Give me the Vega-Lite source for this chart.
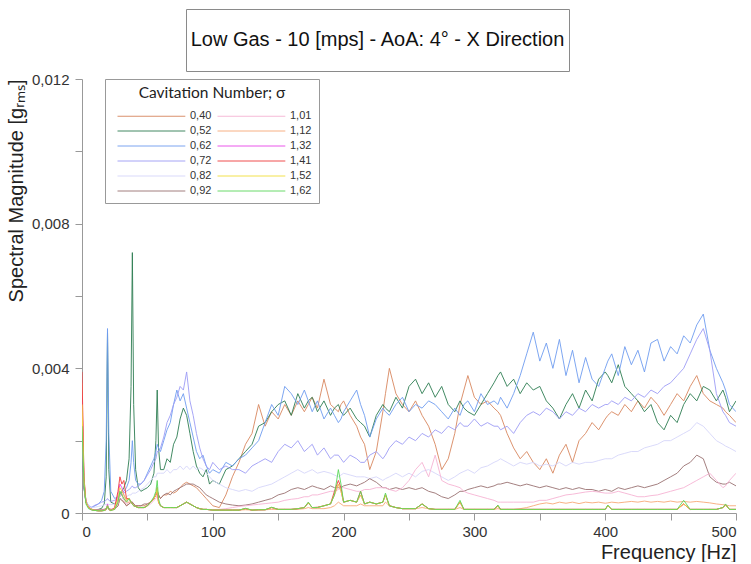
{
"$schema": "https://vega.github.io/schema/vega-lite/v6.json",
"background": "white",
"padding": {"left": 6, "top": 8, "right": 0, "bottom": 0},
"spacing": 0,
"resolve": {"legend": {"color": "independent"}},
"config": {"font": "Liberation Sans", "view": {"stroke": null}},
"datasets": {
"sig": [{"k":"a","s":"0,40"},{"k":"b","s":"0,52"},{"k":"c","s":"0,62"},{"k":"d","s":"0,72"},{"k":"e","s":"0,82"},{"k":"f","s":"0,92"},{"k":"g","s":"1,01"},{"k":"h","s":"1,12"},{"k":"i","s":"1,32"},{"k":"j","s":"1,41"},{"k":"k","s":"1,52"},{"k":"l","s":"1,62"}],
"spec": [
{"hz":0,"a":0.003,"b":0.0025,"c":0.0028,"d":0.0026,"e":0.0027,"f":0.0026,"g":0.0033,"h":0.0036,"i":0.0032,"j":0.0039,"k":0.003,"l":0.0024},
{"hz":1.5,"a":0.0008,"b":0.0007,"c":0.0008,"d":0.0007,"e":0.0008,"f":0.0007,"g":0.0009,"h":0.001,"i":0.0009,"j":0.001,"k":0.0009,"l":0.0008},
{"hz":3,"a":0.0003,"b":0.0003,"c":0.00035,"d":0.0003,"e":0.00035,"f":0.0003,"g":0.0003,"h":0.0003,"i":0.0003,"j":0.0003,"k":0.0003,"l":0.00025},
{"hz":5,"a":0.00015,"b":0.00015,"c":0.0002,"d":0.0002,"e":0.0002,"f":0.00015,"g":0.00015,"h":0.00015,"i":0.00015,"j":0.00015,"k":0.00015,"l":0.00012},
{"hz":7.5,"a":0.0001,"b":0.0001,"c":0.00015,"d":0.00016,"e":0.00015,"f":0.0001,"g":0.0001,"h":0.0001,"i":0.00009,"j":0.00009,"k":0.00009,"l":0.00008},
{"hz":10,"a":0.00008,"b":0.00009,"c":0.0002,"d":0.00022,"e":0.00016,"f":0.00009,"g":0.00008,"h":0.00008,"i":0.00007,"j":0.00007,"k":0.00007,"l":0.00007},
{"hz":12.5,"a":0.00008,"b":0.0001,"c":0.00025,"d":0.00025,"e":0.00018,"f":0.00009,"g":0.00008,"h":0.00007,"i":0.00006,"j":0.00006,"k":0.00006,"l":0.00006},
{"hz":15,"a":0.00009,"b":0.00013,"c":0.00035,"d":0.0003,"e":0.0002,"f":0.0001,"g":0.00008,"h":0.00007,"i":0.00006,"j":0.00006,"k":0.00006,"l":0.00006},
{"hz":17,"a":0.0001,"b":0.00025,"c":0.0006,"d":0.00032,"e":0.00022,"f":0.0001,"g":0.00008,"h":0.00007,"i":0.00007,"j":0.00007,"k":0.00007,"l":0.00007},
{"hz":18.5,"a":0.00012,"b":0.001,"c":0.002,"d":0.00035,"e":0.00024,"f":0.00012,"g":0.0001,"h":0.00009,"i":0.0001,"j":0.0001,"k":0.0001,"l":0.0001},
{"hz":19.5,"a":0.00015,"b":0.005,"c":0.0051,"d":0.0004,"e":0.00025,"f":0.00015,"g":0.00015,"h":0.00015,"i":0.00025,"j":0.0002,"k":0.0002,"l":0.0002},
{"hz":20.5,"a":0.00012,"b":0.0012,"c":0.0022,"d":0.00035,"e":0.00024,"f":0.00012,"g":0.0001,"h":0.00009,"i":0.0001,"j":0.0001,"k":0.0001,"l":0.0001},
{"hz":22,"a":0.0001,"b":0.0003,"c":0.0006,"d":0.00032,"e":0.00023,"f":0.0001,"g":0.00008,"h":0.00007,"i":0.00007,"j":0.00007,"k":0.00007,"l":0.00007},
{"hz":25,"a":0.0001,"b":0.00025,"c":0.0004,"d":0.00035,"e":0.00025,"f":0.0001,"g":0.0001,"h":0.0001,"i":0.00015,"j":0.00015,"k":0.00012,"l":0.0001},
{"hz":27.5,"a":0.0002,"b":0.00035,"c":0.00045,"d":0.0004,"e":0.0003,"f":0.0002,"g":0.00025,"h":0.0003,"i":0.0005,"j":0.0006,"k":0.0004,"l":0.0003},
{"hz":29,"a":0.0004,"b":0.0005,"c":0.0005,"d":0.00045,"e":0.00035,"f":0.0004,"g":0.0005,"h":0.0006,"i":0.0008,"j":0.001,"k":0.0007,"l":0.0006},
{"hz":30.5,"a":0.00035,"b":0.0006,"c":0.00055,"d":0.0005,"e":0.0004,"f":0.00035,"g":0.0005,"h":0.0005,"i":0.0007,"j":0.0008,"k":0.0006,"l":0.0005},
{"hz":32,"a":0.0003,"b":0.0007,"c":0.0006,"d":0.00055,"e":0.0004,"f":0.0003,"g":0.00035,"h":0.0004,"i":0.0005,"j":0.0009,"k":0.0005,"l":0.0004},
{"hz":34,"a":0.0002,"b":0.0009,"c":0.0007,"d":0.0006,"e":0.00045,"f":0.0002,"g":0.00025,"h":0.0003,"i":0.00035,"j":0.0004,"k":0.00035,"l":0.0003},
{"hz":36,"a":0.00025,"b":0.0015,"c":0.0009,"d":0.00065,"e":0.0005,"f":0.00025,"g":0.0003,"h":0.0003,"i":0.0004,"j":0.0004,"k":0.0004,"l":0.0004},
{"hz":37.5,"a":0.0003,"b":0.0035,"c":0.0014,"d":0.0007,"e":0.0005,"f":0.0003,"g":0.0003,"h":0.0003,"i":0.0003,"j":0.0003,"k":0.0003,"l":0.0003},
{"hz":38.5,"a":0.0003,"b":0.0072,"c":0.002,"d":0.00075,"e":0.00055,"f":0.0003,"g":0.00025,"h":0.00025,"i":0.00025,"j":0.00025,"k":0.00025,"l":0.00025},
{"hz":39.5,"a":0.00025,"b":0.003,"c":0.0014,"d":0.0007,"e":0.00055,"f":0.00025,"g":0.0002,"h":0.0002,"i":0.0002,"j":0.0002,"k":0.0002,"l":0.0002},
{"hz":41,"a":0.0002,"b":0.0012,"c":0.0009,"d":0.0007,"e":0.00055,"f":0.0002,"g":0.00018,"h":0.00018,"i":0.00018,"j":0.00018,"k":0.00018,"l":0.00018},
{"hz":43,"a":0.0002,"b":0.0007,"c":0.0008,"d":0.00075,"e":0.0006,"f":0.0002,"g":0.00015,"h":0.00015,"i":0.00015,"j":0.00015,"k":0.00015,"l":0.00015},
{"hz":45,"a":0.0002,"b":0.0006,"c":0.0008,"d":0.0008,"e":0.00065,"f":0.0002,"g":0.00015,"h":0.00015,"i":0.00015,"j":0.00015,"k":0.00015,"l":0.00015},
{"hz":47.5,"a":0.0002,"b":0.00065,"c":0.0009,"d":0.0009,"e":0.0007,"f":0.00025,"g":0.00015,"h":0.00015,"i":0.00015,"j":0.00015,"k":0.00015,"l":0.00015},
{"hz":50,"a":0.00025,"b":0.0007,"c":0.0011,"d":0.00105,"e":0.0008,"f":0.00025,"g":0.0002,"h":0.0002,"i":0.0002,"j":0.0002,"k":0.0002,"l":0.0002},
{"hz":52.5,"a":0.0003,"b":0.0008,"c":0.0013,"d":0.0012,"e":0.0009,"f":0.0003,"g":0.00025,"h":0.0003,"i":0.0003,"j":0.0003,"k":0.0003,"l":0.0003},
{"hz":55,"a":0.0004,"b":0.0011,"c":0.0015,"d":0.0014,"e":0.001,"f":0.0004,"g":0.00035,"h":0.0004,"i":0.0004,"j":0.0004,"k":0.0004,"l":0.00045},
{"hz":56.5,"a":0.0005,"b":0.002,"c":0.0017,"d":0.0015,"e":0.001,"f":0.0005,"g":0.0004,"h":0.0005,"i":0.0005,"j":0.0005,"k":0.0005,"l":0.0006},
{"hz":57.5,"a":0.0006,"b":0.0034,"c":0.0019,"d":0.0017,"e":0.0011,"f":0.0006,"g":0.0005,"h":0.0006,"i":0.0007,"j":0.0007,"k":0.0007,"l":0.0009},
{"hz":58.5,"a":0.0005,"b":0.0018,"c":0.0018,"d":0.0017,"e":0.0011,"f":0.0005,"g":0.0003,"h":0.0003,"i":0.0003,"j":0.0003,"k":0.0003,"l":0.0004},
{"hz":60,"a":0.0004,"b":0.0012,"c":0.0017,"d":0.0018,"e":0.0011,"f":0.0004,"g":0.0002,"h":0.0002,"i":0.0002,"j":0.0002,"k":0.0002,"l":0.0002},
{"hz":62.5,"a":0.0005,"b":0.0012,"c":0.002,"d":0.0021,"e":0.0011,"f":0.0005,"g":0.00015,"h":0.00015,"i":0.00015,"j":0.00015,"k":0.00015,"l":0.00015},
{"hz":65,"a":0.0005,"b":0.0015,"c":0.0023,"d":0.0025,"e":0.0012,"f":0.00055,"g":0.00015,"h":0.00015,"i":0.00015,"j":0.00015,"k":0.00015,"l":0.00015},
{"hz":67.5,"a":0.0006,"b":0.0014,"c":0.0025,"d":0.0027,"e":0.0011,"f":0.0005,"g":0.00015,"h":0.00015,"i":0.00015,"j":0.00015,"k":0.00015,"l":0.00015},
{"hz":70,"a":0.00055,"b":0.0019,"c":0.003,"d":0.003,"e":0.0012,"f":0.0006,"g":0.00015,"h":0.00015,"i":0.00015,"j":0.00015,"k":0.00015,"l":0.00015},
{"hz":72.5,"a":0.0006,"b":0.0021,"c":0.0034,"d":0.0032,"e":0.0012,"f":0.00065,"g":0.00015,"h":0.00015,"i":0.00015,"j":0.00015,"k":0.00015,"l":0.00015},
{"hz":75,"a":0.0007,"b":0.0026,"c":0.0031,"d":0.0035,"e":0.0013,"f":0.0007,"g":0.0002,"h":0.0002,"i":0.0002,"j":0.0002,"k":0.0002,"l":0.0002},
{"hz":77.5,"a":0.0008,"b":0.0029,"c":0.0033,"d":0.0034,"e":0.0012,"f":0.00075,"g":0.00025,"h":0.00025,"i":0.00025,"j":0.00025,"k":0.00025,"l":0.00025},
{"hz":80,"a":0.00085,"b":0.0027,"c":0.0029,"d":0.0039,"e":0.0013,"f":0.0008,"g":0.0003,"h":0.0003,"i":0.0003,"j":0.0003,"k":0.0003,"l":0.0003},
{"hz":82.5,"a":0.0008,"b":0.0022,"c":0.0025,"d":0.0031,"e":0.0012,"f":0.0008,"g":0.00025,"h":0.00025,"i":0.00025,"j":0.00025,"k":0.00025,"l":0.00025},
{"hz":85,"a":0.00075,"b":0.0017,"c":0.0021,"d":0.0027,"e":0.0013,"f":0.0008,"g":0.0002,"h":0.0002,"i":0.0002,"j":0.0002,"k":0.0002,"l":0.0002},
{"hz":87.5,"a":0.0007,"b":0.0013,"c":0.0017,"d":0.0022,"e":0.0012,"f":0.00075,"g":0.00015,"h":0.00015,"i":0.00015,"j":0.00015,"k":0.00015,"l":0.00015},
{"hz":90,"a":0.0006,"b":0.0011,"c":0.0015,"d":0.0018,"e":0.00125,"f":0.0007,"g":0.00012,"h":0.00012,"i":0.00012,"j":0.00012,"k":0.00012,"l":0.00012},
{"hz":92.5,"a":0.0005,"b":0.001,"c":0.0016,"d":0.0015,"e":0.0012,"f":0.0006,"g":0.0001,"h":0.0001,"i":0.0001,"j":0.0001,"k":0.0001,"l":0.0001},
{"hz":95,"a":0.0004,"b":0.0012,"c":0.0013,"d":0.0013,"e":0.0011,"f":0.0005,"g":0.0001,"h":0.0001,"i":0.0001,"j":0.0001,"k":0.0001,"l":0.0001},
{"hz":97.5,"a":0.0003,"b":0.0008,"c":0.0011,"d":0.0012,"e":0.001,"f":0.00045,"g":0.0001,"h":0.00009,"i":0.00009,"j":0.00009,"k":0.00009,"l":0.00009},
{"hz":100,"a":0.0002,"b":0.0009,"c":0.0012,"d":0.0014,"e":0.0009,"f":0.0004,"g":0.00009,"h":0.00008,"i":0.00008,"j":0.00008,"k":0.00008,"l":0.00008},
{"hz":105,"a":0.00015,"b":0.0008,"c":0.0011,"d":0.0012,"e":0.0008,"f":0.0003,"g":0.0001,"h":0.00008,"i":0.00008,"j":0.00008,"k":0.00008,"l":0.00008},
{"hz":110,"a":0.0005,"b":0.0012,"c":0.0014,"d":0.0013,"e":0.0007,"f":0.00025,"g":0.00012,"h":0.00008,"i":0.00008,"j":0.00008,"k":0.00008,"l":0.00008},
{"hz":115,"a":0.001,"b":0.0013,"c":0.0013,"d":0.0012,"e":0.00065,"f":0.00022,"g":0.00015,"h":0.00008,"i":0.00008,"j":0.00008,"k":0.00008,"l":0.00008},
{"hz":120,"a":0.0014,"b":0.0015,"c":0.0015,"d":0.0012,"e":0.0006,"f":0.0002,"g":0.00018,"h":0.00008,"i":0.00008,"j":0.00008,"k":0.00008,"l":0.00008},
{"hz":125,"a":0.0019,"b":0.0017,"c":0.0016,"d":0.0011,"e":0.00065,"f":0.00022,"g":0.0002,"h":0.00009,"i":0.00012,"j":0.00012,"k":0.00012,"l":0.00013},
{"hz":130,"a":0.0022,"b":0.0019,"c":0.0018,"d":0.0013,"e":0.0006,"f":0.00025,"g":0.00022,"h":0.00008,"i":0.00008,"j":0.00008,"k":0.00008,"l":0.00008},
{"hz":135,"a":0.003,"b":0.0024,"c":0.002,"d":0.0014,"e":0.0007,"f":0.0003,"g":0.00024,"h":0.00008,"i":0.00009,"j":0.00009,"k":0.00009,"l":0.00009},
{"hz":140,"a":0.0024,"b":0.0025,"c":0.0025,"d":0.0015,"e":0.00075,"f":0.00035,"g":0.00026,"h":0.00009,"i":0.00009,"j":0.00009,"k":0.00009,"l":0.00009},
{"hz":145,"a":0.0028,"b":0.0028,"c":0.003,"d":0.0014,"e":0.0008,"f":0.0004,"g":0.00028,"h":0.0001,"i":0.00015,"j":0.00015,"k":0.00015,"l":0.00016},
{"hz":150,"a":0.0026,"b":0.003,"c":0.0027,"d":0.0017,"e":0.0009,"f":0.0005,"g":0.0003,"h":0.0001,"i":0.0001,"j":0.0001,"k":0.0001,"l":0.0001},
{"hz":155,"a":0.003,"b":0.0031,"c":0.0035,"d":0.0019,"e":0.001,"f":0.00055,"g":0.00035,"h":0.0001,"i":0.0001,"j":0.0001,"k":0.0001,"l":0.0001},
{"hz":160,"a":0.0027,"b":0.0027,"c":0.0033,"d":0.0018,"e":0.0011,"f":0.00065,"g":0.00038,"h":0.0001,"i":0.0001,"j":0.0001,"k":0.0001,"l":0.0001},
{"hz":165,"a":0.0031,"b":0.0033,"c":0.003,"d":0.002,"e":0.0012,"f":0.0007,"g":0.0004,"h":0.0001,"i":0.00012,"j":0.00012,"k":0.00012,"l":0.00012},
{"hz":170,"a":0.0028,"b":0.0029,"c":0.0034,"d":0.0017,"e":0.0011,"f":0.00065,"g":0.00045,"h":0.00012,"i":0.00015,"j":0.00015,"k":0.00015,"l":0.00015},
{"hz":173,"a":0.003,"b":0.0031,"c":0.0031,"d":0.0018,"e":0.00115,"f":0.0007,"g":0.00045,"h":0.00015,"i":0.00028,"j":0.00028,"k":0.00028,"l":0.0003},
{"hz":176,"a":0.0032,"b":0.0032,"c":0.0028,"d":0.0019,"e":0.0012,"f":0.00075,"g":0.0005,"h":0.00012,"i":0.00015,"j":0.00015,"k":0.00015,"l":0.00015},
{"hz":180,"a":0.0029,"b":0.0028,"c":0.0031,"d":0.0016,"e":0.0011,"f":0.0007,"g":0.0005,"h":0.00012,"i":0.00015,"j":0.00016,"k":0.00015,"l":0.00015},
{"hz":185,"a":0.0037,"b":0.0031,"c":0.0026,"d":0.0018,"e":0.00115,"f":0.00065,"g":0.00055,"h":0.00012,"i":0.0002,"j":0.0002,"k":0.0002,"l":0.0002},
{"hz":190,"a":0.003,"b":0.0027,"c":0.0029,"d":0.0015,"e":0.0011,"f":0.00075,"g":0.0006,"h":0.00015,"i":0.00025,"j":0.00025,"k":0.00025,"l":0.00025},
{"hz":193,"a":0.0029,"b":0.0029,"c":0.0027,"d":0.0016,"e":0.00105,"f":0.0007,"g":0.0006,"h":0.0002,"i":0.0005,"j":0.0006,"k":0.0005,"l":0.0005},
{"hz":196,"a":0.0028,"b":0.003,"c":0.0025,"d":0.0016,"e":0.001,"f":0.0007,"g":0.00065,"h":0.0003,"i":0.0008,"j":0.0009,"k":0.0008,"l":0.0012},
{"hz":198,"a":0.003,"b":0.0028,"c":0.0026,"d":0.0015,"e":0.00105,"f":0.0007,"g":0.0007,"h":0.00025,"i":0.0006,"j":0.0007,"k":0.0006,"l":0.0008},
{"hz":200,"a":0.0031,"b":0.0027,"c":0.0028,"d":0.0014,"e":0.0011,"f":0.00075,"g":0.0007,"h":0.0002,"i":0.0003,"j":0.0003,"k":0.0003,"l":0.0003},
{"hz":205,"a":0.0027,"b":0.0029,"c":0.0031,"d":0.0016,"e":0.00105,"f":0.0008,"g":0.00065,"h":0.0002,"i":0.00035,"j":0.00035,"k":0.00035,"l":0.00035},
{"hz":210,"a":0.0024,"b":0.0026,"c":0.0034,"d":0.0015,"e":0.001,"f":0.00075,"g":0.0006,"h":0.0002,"i":0.0003,"j":0.0003,"k":0.0003,"l":0.0003},
{"hz":213,"a":0.0021,"b":0.0025,"c":0.003,"d":0.0014,"e":0.001,"f":0.0008,"g":0.0006,"h":0.00025,"i":0.0005,"j":0.0006,"k":0.0005,"l":0.0006},
{"hz":216,"a":0.0019,"b":0.0024,"c":0.0027,"d":0.0014,"e":0.001,"f":0.00085,"g":0.00065,"h":0.0002,"i":0.00025,"j":0.00025,"k":0.00025,"l":0.00025},
{"hz":220,"a":0.0012,"b":0.0021,"c":0.0021,"d":0.0016,"e":0.00095,"f":0.00095,"g":0.00065,"h":0.0002,"i":0.0003,"j":0.0003,"k":0.0003,"l":0.0003},
{"hz":225,"a":0.0017,"b":0.0027,"c":0.0026,"d":0.0017,"e":0.001,"f":0.00085,"g":0.0007,"h":0.0002,"i":0.00025,"j":0.00025,"k":0.00025,"l":0.00025},
{"hz":230,"a":0.0028,"b":0.003,"c":0.0029,"d":0.0015,"e":0.0009,"f":0.0007,"g":0.0007,"h":0.0002,"i":0.0003,"j":0.0003,"k":0.0003,"l":0.0003},
{"hz":232,"a":0.0033,"b":0.0029,"c":0.0028,"d":0.0016,"e":0.00095,"f":0.0007,"g":0.0007,"h":0.0003,"i":0.0005,"j":0.0005,"k":0.0005,"l":0.00055},
{"hz":235,"a":0.004,"b":0.0028,"c":0.0027,"d":0.0018,"e":0.001,"f":0.00065,"g":0.00065,"h":0.0002,"i":0.0002,"j":0.0002,"k":0.0002,"l":0.0002},
{"hz":240,"a":0.0033,"b":0.0032,"c":0.003,"d":0.002,"e":0.0011,"f":0.0007,"g":0.0006,"h":0.00015,"i":0.00015,"j":0.00015,"k":0.00015,"l":0.00015},
{"hz":245,"a":0.003,"b":0.0029,"c":0.0032,"d":0.0019,"e":0.001,"f":0.00065,"g":0.0007,"h":0.00012,"i":0.00012,"j":0.00012,"k":0.00012,"l":0.00012},
{"hz":250,"a":0.0028,"b":0.0035,"c":0.0028,"d":0.0021,"e":0.0011,"f":0.0007,"g":0.0009,"h":0.00012,"i":0.00012,"j":0.00012,"k":0.00012,"l":0.00012},
{"hz":255,"a":0.0031,"b":0.0037,"c":0.003,"d":0.002,"e":0.001,"f":0.00065,"g":0.0012,"h":0.00012,"i":0.00012,"j":0.00012,"k":0.00012,"l":0.00012},
{"hz":260,"a":0.0027,"b":0.0033,"c":0.0029,"d":0.0022,"e":0.00115,"f":0.0007,"g":0.0014,"h":0.00015,"i":0.00025,"j":0.00025,"k":0.00025,"l":0.00025},
{"hz":265,"a":0.0024,"b":0.0036,"c":0.0031,"d":0.0021,"e":0.0012,"f":0.0006,"g":0.001,"h":0.00012,"i":0.00012,"j":0.00012,"k":0.00012,"l":0.00012},
{"hz":270,"a":0.0019,"b":0.0032,"c":0.003,"d":0.0023,"e":0.0011,"f":0.00055,"g":0.0016,"h":0.0001,"i":0.0001,"j":0.0001,"k":0.0001,"l":0.0001},
{"hz":275,"a":0.0012,"b":0.0035,"c":0.0028,"d":0.0022,"e":0.001,"f":0.00045,"g":0.0009,"h":0.0001,"i":0.0001,"j":0.0001,"k":0.0001,"l":0.0001},
{"hz":280,"a":0.0015,"b":0.003,"c":0.0026,"d":0.0024,"e":0.0009,"f":0.0004,"g":0.0008,"h":0.0001,"i":0.0001,"j":0.0001,"k":0.0001,"l":0.0001},
{"hz":285,"a":0.0022,"b":0.0028,"c":0.0029,"d":0.0023,"e":0.001,"f":0.0005,"g":0.00075,"h":0.0001,"i":0.0001,"j":0.0001,"k":0.0001,"l":0.0001},
{"hz":289,"a":0.003,"b":0.0031,"c":0.0027,"d":0.0025,"e":0.0011,"f":0.0006,"g":0.0007,"h":0.00015,"i":0.0003,"j":0.0003,"k":0.0003,"l":0.00035},
{"hz":292,"a":0.0034,"b":0.0029,"c":0.003,"d":0.0024,"e":0.00115,"f":0.0006,"g":0.0006,"h":0.0001,"i":0.0001,"j":0.0001,"k":0.0001,"l":0.0001},
{"hz":295,"a":0.0038,"b":0.0028,"c":0.0031,"d":0.0024,"e":0.0012,"f":0.00065,"g":0.00055,"h":0.0001,"i":0.0001,"j":0.0001,"k":0.0001,"l":0.0001},
{"hz":300,"a":0.0032,"b":0.0027,"c":0.0028,"d":0.0026,"e":0.0011,"f":0.0007,"g":0.0005,"h":0.0001,"i":0.0001,"j":0.0001,"k":0.0001,"l":0.0001},
{"hz":305,"a":0.003,"b":0.003,"c":0.0033,"d":0.0024,"e":0.00125,"f":0.00075,"g":0.00045,"h":0.0001,"i":0.0001,"j":0.0001,"k":0.0001,"l":0.0001},
{"hz":310,"a":0.0031,"b":0.0033,"c":0.003,"d":0.0025,"e":0.0013,"f":0.0007,"g":0.0004,"h":0.0001,"i":0.0001,"j":0.0001,"k":0.0001,"l":0.0001},
{"hz":315,"a":0.0029,"b":0.0036,"c":0.0031,"d":0.0024,"e":0.0014,"f":0.00075,"g":0.00035,"h":0.0001,"i":0.0001,"j":0.0001,"k":0.0001,"l":0.0001},
{"hz":318,"a":0.0028,"b":0.0038,"c":0.003,"d":0.0024,"e":0.00145,"f":0.0008,"g":0.0003,"h":0.00012,"i":0.0002,"j":0.0002,"k":0.0002,"l":0.00022},
{"hz":320,"a":0.0027,"b":0.0039,"c":0.0032,"d":0.0023,"e":0.0015,"f":0.0008,"g":0.0003,"h":0.0001,"i":0.0001,"j":0.0001,"k":0.0001,"l":0.0001},
{"hz":325,"a":0.0022,"b":0.0035,"c":0.0029,"d":0.0024,"e":0.0014,"f":0.00085,"g":0.0003,"h":0.0001,"i":0.0001,"j":0.0001,"k":0.0001,"l":0.0001},
{"hz":330,"a":0.0018,"b":0.0037,"c":0.0033,"d":0.0022,"e":0.0013,"f":0.0008,"g":0.0003,"h":0.0001,"i":0.0001,"j":0.0001,"k":0.0001,"l":0.0001},
{"hz":335,"a":0.0015,"b":0.0033,"c":0.0038,"d":0.0025,"e":0.0014,"f":0.00075,"g":0.0003,"h":0.00012,"i":0.0001,"j":0.0001,"k":0.0001,"l":0.0001},
{"hz":340,"a":0.0017,"b":0.0036,"c":0.0044,"d":0.0027,"e":0.00135,"f":0.0008,"g":0.0003,"h":0.00015,"i":0.0001,"j":0.0001,"k":0.0001,"l":0.0001},
{"hz":345,"a":0.0014,"b":0.0034,"c":0.005,"d":0.0028,"e":0.0014,"f":0.00075,"g":0.0003,"h":0.0002,"i":0.0001,"j":0.0001,"k":0.0001,"l":0.0001},
{"hz":350,"a":0.0012,"b":0.0035,"c":0.0042,"d":0.0027,"e":0.0013,"f":0.0007,"g":0.00035,"h":0.00025,"i":0.0001,"j":0.0001,"k":0.0001,"l":0.0001},
{"hz":355,"a":0.0015,"b":0.0031,"c":0.0047,"d":0.0029,"e":0.00135,"f":0.00075,"g":0.00035,"h":0.00028,"i":0.0001,"j":0.0001,"k":0.0001,"l":0.0001},
{"hz":360,"a":0.0011,"b":0.0029,"c":0.004,"d":0.0028,"e":0.0013,"f":0.0007,"g":0.0004,"h":0.00025,"i":0.0001,"j":0.0001,"k":0.0001,"l":0.0001},
{"hz":365,"a":0.0016,"b":0.0026,"c":0.0048,"d":0.0026,"e":0.0014,"f":0.00065,"g":0.00045,"h":0.0003,"i":0.0001,"j":0.0001,"k":0.0001,"l":0.0001},
{"hz":370,"a":0.0019,"b":0.003,"c":0.0038,"d":0.0028,"e":0.0013,"f":0.0007,"g":0.0005,"h":0.00027,"i":0.0001,"j":0.0001,"k":0.0001,"l":0.0001},
{"hz":375,"a":0.0014,"b":0.0033,"c":0.0045,"d":0.0027,"e":0.0014,"f":0.00065,"g":0.00052,"h":0.0003,"i":0.0001,"j":0.0001,"k":0.0001,"l":0.0001},
{"hz":380,"a":0.002,"b":0.0029,"c":0.0036,"d":0.0029,"e":0.00135,"f":0.0007,"g":0.00055,"h":0.00026,"i":0.0001,"j":0.0001,"k":0.0001,"l":0.0001},
{"hz":385,"a":0.0022,"b":0.0034,"c":0.0043,"d":0.0028,"e":0.0014,"f":0.00065,"g":0.00058,"h":0.0003,"i":0.0001,"j":0.0001,"k":0.0001,"l":0.0001},
{"hz":390,"a":0.0025,"b":0.0031,"c":0.0037,"d":0.003,"e":0.0014,"f":0.00065,"g":0.0006,"h":0.00028,"i":0.0001,"j":0.0001,"k":0.0001,"l":0.0001},
{"hz":395,"a":0.0023,"b":0.0037,"c":0.0035,"d":0.0029,"e":0.00145,"f":0.0006,"g":0.00058,"h":0.0003,"i":0.0001,"j":0.0001,"k":0.0001,"l":0.0001},
{"hz":400,"a":0.0026,"b":0.0039,"c":0.004,"d":0.003,"e":0.0015,"f":0.00065,"g":0.00055,"h":0.00027,"i":0.0001,"j":0.0001,"k":0.0001,"l":0.0001},
{"hz":402,"a":0.0027,"b":0.0038,"c":0.0042,"d":0.003,"e":0.0015,"f":0.00063,"g":0.00055,"h":0.00028,"i":0.0002,"j":0.0002,"k":0.0002,"l":0.00022},
{"hz":405,"a":0.0028,"b":0.0036,"c":0.0044,"d":0.0031,"e":0.0015,"f":0.0006,"g":0.00055,"h":0.0003,"i":0.0001,"j":0.0001,"k":0.0001,"l":0.0001},
{"hz":410,"a":0.0027,"b":0.0041,"c":0.0038,"d":0.003,"e":0.0016,"f":0.0007,"g":0.0006,"h":0.00028,"i":0.0001,"j":0.0001,"k":0.0001,"l":0.0001},
{"hz":415,"a":0.003,"b":0.0035,"c":0.0046,"d":0.0032,"e":0.00165,"f":0.00065,"g":0.00055,"h":0.0003,"i":0.0001,"j":0.0001,"k":0.0001,"l":0.0001},
{"hz":420,"a":0.0028,"b":0.0033,"c":0.0041,"d":0.0031,"e":0.0017,"f":0.0007,"g":0.0005,"h":0.00032,"i":0.0001,"j":0.0001,"k":0.0001,"l":0.0001},
{"hz":425,"a":0.0031,"b":0.0031,"c":0.0045,"d":0.0033,"e":0.0017,"f":0.00075,"g":0.00045,"h":0.0003,"i":0.0001,"j":0.0001,"k":0.0001,"l":0.0001},
{"hz":430,"a":0.0029,"b":0.0028,"c":0.0039,"d":0.0032,"e":0.0018,"f":0.0007,"g":0.00045,"h":0.00033,"i":0.0001,"j":0.0001,"k":0.0001,"l":0.0001},
{"hz":435,"a":0.0032,"b":0.003,"c":0.0047,"d":0.0034,"e":0.00185,"f":0.00075,"g":0.00048,"h":0.0003,"i":0.0001,"j":0.0001,"k":0.0001,"l":0.0001},
{"hz":440,"a":0.003,"b":0.0025,"c":0.0048,"d":0.0033,"e":0.0019,"f":0.0008,"g":0.0005,"h":0.00032,"i":0.0001,"j":0.0001,"k":0.0001,"l":0.0001},
{"hz":445,"a":0.0027,"b":0.0023,"c":0.0042,"d":0.0035,"e":0.002,"f":0.0009,"g":0.00055,"h":0.0003,"i":0.0001,"j":0.0001,"k":0.0001,"l":0.0001},
{"hz":450,"a":0.003,"b":0.0027,"c":0.0046,"d":0.0036,"e":0.002,"f":0.001,"g":0.0006,"h":0.00033,"i":0.0001,"j":0.0001,"k":0.0001,"l":0.0001},
{"hz":455,"a":0.0033,"b":0.0025,"c":0.0044,"d":0.0038,"e":0.0021,"f":0.0011,"g":0.00065,"h":0.0003,"i":0.0001,"j":0.0001,"k":0.0001,"l":0.0001},
{"hz":460,"a":0.0031,"b":0.003,"c":0.0049,"d":0.004,"e":0.0022,"f":0.0013,"g":0.0007,"h":0.00032,"i":0.00025,"j":0.00025,"k":0.00025,"l":0.00035},
{"hz":465,"a":0.0035,"b":0.0033,"c":0.0047,"d":0.0044,"e":0.0023,"f":0.0014,"g":0.0008,"h":0.0003,"i":0.0001,"j":0.0001,"k":0.0001,"l":0.0001},
{"hz":470,"a":0.0038,"b":0.0031,"c":0.0052,"d":0.0048,"e":0.0025,"f":0.0016,"g":0.0009,"h":0.00032,"i":0.0001,"j":0.0001,"k":0.0001,"l":0.0001},
{"hz":475,"a":0.0033,"b":0.0035,"c":0.0055,"d":0.0051,"e":0.0024,"f":0.0015,"g":0.001,"h":0.0003,"i":0.0001,"j":0.0001,"k":0.0001,"l":0.0001},
{"hz":480,"a":0.0031,"b":0.0034,"c":0.0045,"d":0.0045,"e":0.0022,"f":0.001,"g":0.0011,"h":0.00028,"i":0.0001,"j":0.0001,"k":0.0001,"l":0.0001},
{"hz":485,"a":0.003,"b":0.0031,"c":0.004,"d":0.0033,"e":0.002,"f":0.00085,"g":0.0009,"h":0.00025,"i":0.0001,"j":0.0001,"k":0.0001,"l":0.0001},
{"hz":490,"a":0.0029,"b":0.0034,"c":0.0036,"d":0.0028,"e":0.0019,"f":0.0008,"g":0.0007,"h":0.00023,"i":0.00015,"j":0.00015,"k":0.00015,"l":0.00015},
{"hz":492,"a":0.0028,"b":0.0032,"c":0.0034,"d":0.0027,"e":0.00185,"f":0.0008,"g":0.00075,"h":0.00022,"i":0.00022,"j":0.00022,"k":0.00022,"l":0.00025},
{"hz":495,"a":0.0027,"b":0.0028,"c":0.003,"d":0.0025,"e":0.0018,"f":0.00085,"g":0.0009,"h":0.0002,"i":0.0001,"j":0.0001,"k":0.0001,"l":0.0001},
{"hz":500,"a":0.0025,"b":0.0031,"c":0.0028,"d":0.0024,"e":0.0017,"f":0.00075,"g":0.0011,"h":0.0002,"i":0.0001,"j":0.0001,"k":0.0001,"l":0.0001}
]
},
"vconcat": [
{
"spacing": 0,
"hconcat": [
{
"width": 103,
"height": 62,
"data": {"values": []},
"mark": "point"
},
{
"width": 383,
"height": 62,
"view": {"stroke": "#8a8a8a", "strokeWidth": 1, "fill": "white"},
"data": {"values": [{"t": "Low Gas - 10 [mps] - AoA: 4° - X Direction"}]},
"mark": {"type": "text", "fontSize": 20, "font": "Liberation Sans", "color": "#111111"},
"encoding": {"text": {"field": "t"}}
}
]
},
{
"width": 654,
"height": 434,
"data": {"name": "spec"},
"transform": [
{"fold": ["a","b","c","d","e","f","g","h","i","j","k","l"], "as": ["k","v"]},
{"lookup": "k", "from": {"data": {"name": "sig"}, "key": "k", "fields": ["s"]}}
],
"mark": {"type": "line", "strokeWidth": 1, "opacity": 0.9, "clip": true},
"encoding": {
"x": {"field": "hz", "type": "quantitative", "scale": {"domain": [0, 500], "nice": false},
 "axis": {"values": [0,50,100,150,200,250,300,350,400,450,500], "labelExpr": "datum.value % 100 == 0 ? datum.label : ''", "grid": false, "title": "Frequency [Hz]", "titleAnchor": "end", "titleFontSize": 20, "titleFontWeight": "normal", "titleColor": "#222222", "titlePadding": 3, "labelFontSize": 15, "labelColor": "#333333", "labelPadding": 4, "domainColor": "#999999", "tickColor": "#999999", "tickSize": 7}},
"y": {"field": "v", "type": "quantitative", "scale": {"domain": [0, 0.012], "nice": false},
 "axis": {"values": [0,0.002,0.004,0.006,0.008,0.01,0.012], "labelExpr": "datum.value == 0 ? '0' : (round(datum.value*1000) % 4 == 0 ? replace(format(datum.value, '.3f'), '.', ',') : '')", "grid": false, "title": "Spectral Magnitude [gᵣₘₛ]", "titleAnchor": "end", "titleFontSize": 20, "titleFontWeight": "normal", "titleColor": "#222222", "titlePadding": 5, "labelFontSize": 15, "labelColor": "#333333", "labelPadding": 6, "domainColor": "#999999", "tickColor": "#999999", "tickSize": 7}},
"color": {"field": "s", "type": "nominal",
 "scale": {"domain": ["0,40","0,52","0,62","0,72","0,82","0,92","1,01","1,12","1,32","1,41","1,52","1,62"],
  "range": ["#d8875f","#2e7d52","#6f9cf0","#9d9cf5","#d6d6fa","#9a7272","#f6b4d4","#f7a878","#e845e8","#ef3d3d","#f2df3a","#5ad85a"]},
 "legend": {"orient": "none", "legendX": 23, "legendY": 0, "columns": 2, "title": "Cavitation Number; σ", "titleFont": "Lato", "titleFontSize": 15.5, "titleFontWeight": "normal", "titleColor": "#222222", "titleAnchor": "middle", "titlePadding": 9, "labelFont": "Liberation Sans", "labelFontSize": 11, "labelColor": "#333333", "symbolType": "M0,0H20", "symbolSize": 46, "symbolStrokeWidth": 1, "strokeColor": "#999999", "fillColor": "white", "padding": 7, "rowPadding": 3, "columnPadding": 0, "labelOffset": 67}}
}
}
]
}
